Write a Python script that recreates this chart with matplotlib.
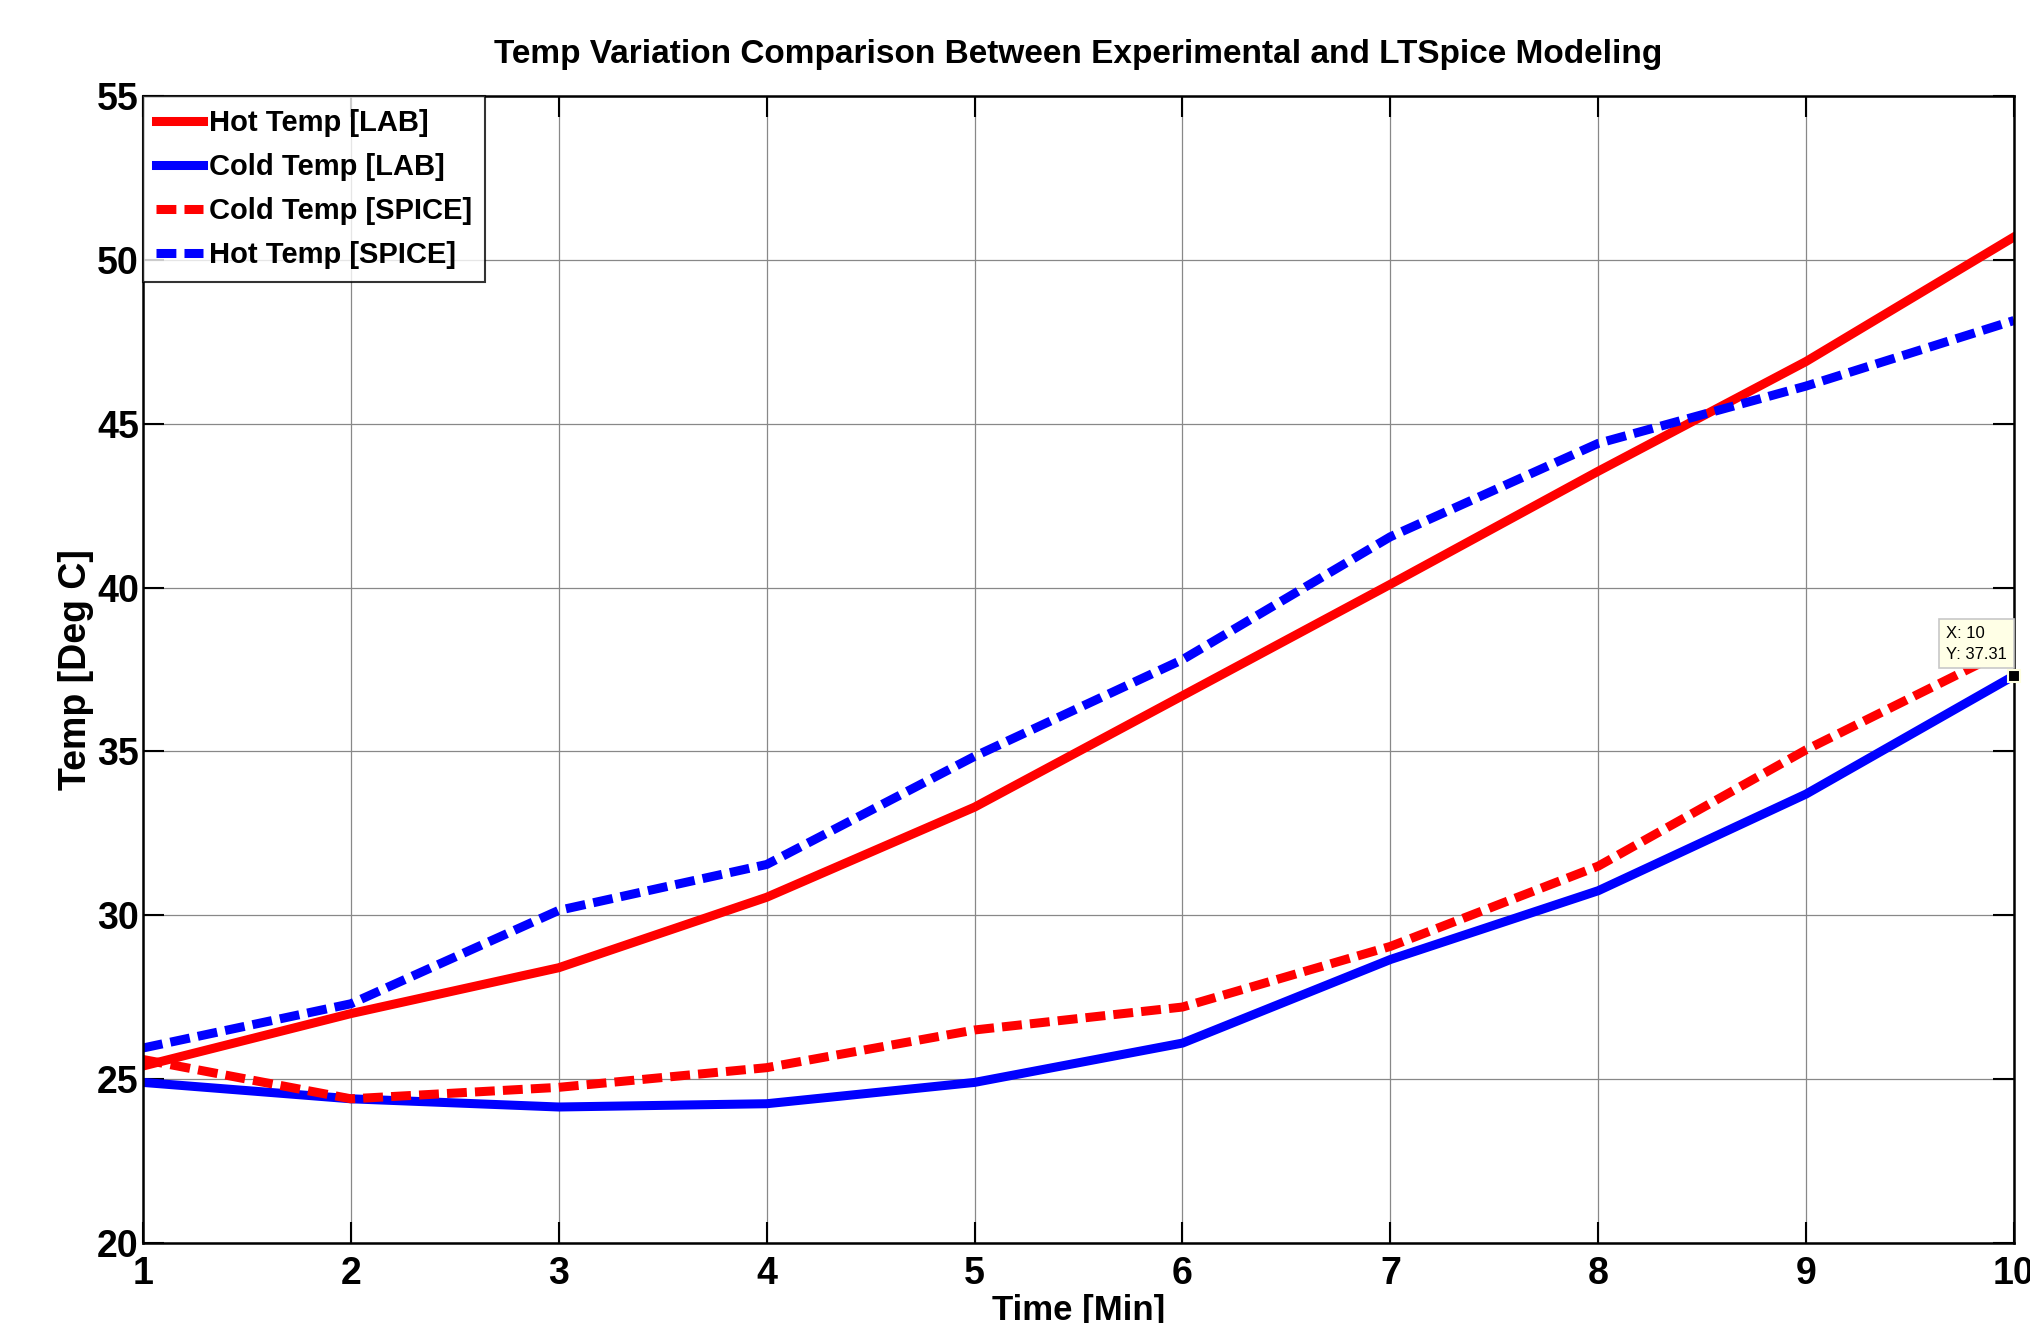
import numpy as np
import matplotlib.pyplot as plt

plt.rcParams['font.family'] = ['Liberation Sans', 'DejaVu Sans']

tiempo = [1, 2, 3, 4, 5, 6, 7, 8, 9, 10]
hot_lab = [25.4, 27.0, 28.4, 30.55, 33.3, 36.7, 40.1, 43.55, 46.9, 50.7]
cold_lab = [24.9, 24.4, 24.15, 24.25, 24.9, 26.1, 28.65, 30.75, 33.7, 37.31]
cold_spice = [25.6, 24.4, 24.75, 25.35, 26.5, 27.2, 29.05, 31.5, 35.05, 38.2]
hot_spice = [25.95, 27.3, 30.15, 31.55, 34.85, 37.8, 41.55, 44.4, 46.15, 48.15]

fig = plt.figure(figsize=(20.3, 13.23), dpi=100)
ax = fig.add_axes([143 / 2030, 1 - 1243 / 1323, (2014 - 143) / 2030, (1243 - 96) / 1323])

lw = 6.5
ax.plot(tiempo, hot_lab, color='#ff0000', lw=lw, label='Hot Temp [LAB]')
ax.plot(tiempo, cold_lab, color='#0000ff', lw=lw, label='Cold Temp [LAB]')
ax.plot(tiempo, cold_spice, color='#ff0000', lw=lw, ls=(0, (2.2, 0.9)), label='Cold Temp [SPICE]')
ax.plot(tiempo, hot_spice, color='#0000ff', lw=lw, ls=(0, (2.2, 0.9)), label='Hot Temp [SPICE]')

# data tip
ax.plot(tiempo[-1], cold_lab[-1], 's', color='black', ms=9, mec='#ffffe0', mew=1.5, zorder=6, clip_on=False)
ax.annotate('X: %d\nY: %.2f' % (tiempo[-1], cold_lab[-1]), xy=(tiempo[-1], cold_lab[-1]),
            xytext=(-68, 14), textcoords='offset pixels', fontsize=12,
            linespacing=1.5, va='bottom', ha='left',
            bbox=dict(boxstyle='square,pad=0.4', fc='#ffffe6', ec='#c8c8c8', lw=1.2), zorder=7)

ax.set_xlim(1, 10)
ax.set_ylim(20, 55)
ax.set_xticks(tiempo)
ax.set_yticks(np.arange(20, 56, 5))
ax.grid(True, color='#888888', lw=0.9)
ax.tick_params(direction='in', length=15, width=1.5, top=True, right=True, labelsize=27)
ax.tick_params(axis='y', pad=3)
ax.tick_params(axis='x', pad=9)
for t in ax.get_xticklabels() + ax.get_yticklabels():
    t.set_fontweight('bold')
for s in ax.spines.values():
    s.set_linewidth(1.8)

ax.set_title('Temp Variation Comparison Between Experimental and LTSpice Modeling',
             fontsize=24, fontweight='bold', pad=24)
ax.set_xlabel('Time [Min]', fontsize=25, fontweight='bold', labelpad=2)
ax.set_ylabel('Temp [Deg C]', fontsize=27, fontweight='bold', labelpad=2)

leg = ax.legend(loc='upper left', prop={'weight': 'bold', 'size': 21}, frameon=True, fancybox=False,
                borderaxespad=0, handlelength=1.6, handletextpad=0.2, labelspacing=0.55, borderpad=0.45)
leg.get_frame().set_edgecolor('black')
leg.get_frame().set_linewidth(1.5)

plt.savefig('out.png', dpi=100)
